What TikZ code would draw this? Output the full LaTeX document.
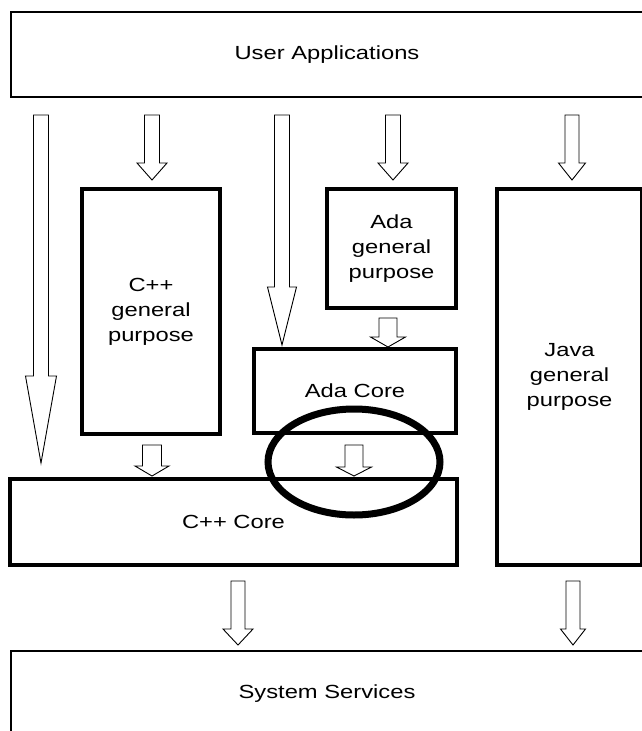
\documentclass[tikz,border=0pt]{standalone}
\usepackage{fontspec}
\setmainfont{Liberation Sans}[FakeStretch=1.25]
\tikzset{
  thinbox/.style={draw, line width=1.2pt, inner sep=0pt, align=center},
  thickbox/.style={draw, line width=4pt, inner sep=0pt, align=center},
  blockarrow/.style={draw, fill=white, line width=0.9pt, line join=miter},
  ring/.style={draw, line width=7pt}
}
% hollow block arrow: x, top y, y where the head starts, tip y, shaft half width, head half width
\newcommand\hollowarrow[6]{%
  \draw[blockarrow] (#1-#5,#2) -- (#1+#5,#2) -- (#1+#5,#3) -- (#1+#6,#3)
    -- (#1,#4) -- (#1-#6,#3) -- (#1-#5,#3) -- cycle;}
\begin{document}
\begin{tikzpicture}[x=1pt,y=-1pt,font=\fontsize{19}{25}\selectfont]
\useasboundingbox (0,0) rectangle (642,731);
\begin{scope}
\clip (0,0) rectangle (642,731);

% layers
\node[thinbox, minimum width=632pt, minimum height=85pt] (ua) at (327,54.5) {User Applications};
\node[thinbox, minimum width=632pt, minimum height=86pt] (ss) at (327,694) {System Services};
\node[thickbox, minimum width=138pt, minimum height=245pt] (cgp) at (151,311.5) {C++\\general\\purpose};
\node[thickbox, minimum width=129pt, minimum height=119pt] (agp) at (391.5,248.5) {Ada\\general\\purpose};
\node[thickbox, minimum width=202pt, minimum height=84pt] (acore) at (355,391) {Ada Core};
\node[thickbox, minimum width=145pt, minimum height=376pt] (java) at (569.5,377) {Java\\general\\purpose};
\node[thickbox, minimum width=447pt, minimum height=86pt] (ccore) at (233.5,522) {C++ Core};

% calls from the applications
\hollowarrow{41}{115}{376}{463}{7.5}{15.5}
\hollowarrow{152}{115}{163}{180}{7.5}{15}
\hollowarrow{282}{115}{287}{345}{7.5}{14.5}
\hollowarrow{393}{115}{163}{180}{7.5}{15}
\hollowarrow{572}{115}{163}{180}{7}{13.5}

% calls between libraries
\hollowarrow{152}{445}{466}{476}{9.5}{17}
\hollowarrow{388}{318}{337}{347}{9}{17.5}
\hollowarrow{354}{445}{467}{476}{9}{17.5}

% calls to the system
\hollowarrow{238}{581}{629}{645}{7}{15}
\hollowarrow{573}{581}{629}{645}{7}{12.5}

% highlighted Ada-to-C++ interface
\draw[ring] (354,462) ellipse [x radius=86pt, y radius=53pt];
\end{scope}
\end{tikzpicture}
\end{document}
